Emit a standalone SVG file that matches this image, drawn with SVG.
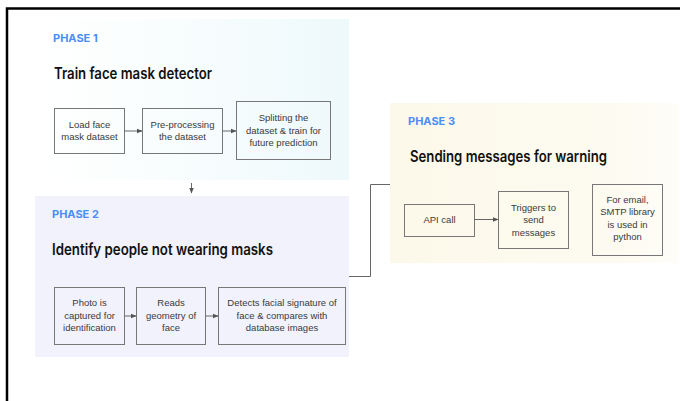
<svg xmlns="http://www.w3.org/2000/svg" width="680" height="401" viewBox="0 0 680 401">
<defs>
<linearGradient id="g1" x1="0" y1="0" x2="1" y2="0">
<stop offset="0" stop-color="#ffffff"/>
<stop offset="0.3" stop-color="#fbfefe"/>
<stop offset="1" stop-color="#eef9fc"/>
</linearGradient>
<linearGradient id="g3" x1="0" y1="0" x2="1" y2="0">
<stop offset="0" stop-color="#fcf9ea"/>
<stop offset="0.8" stop-color="#fdfbf1"/>
<stop offset="1" stop-color="#fefdf8"/>
</linearGradient>
<marker id="ah" viewBox="0 0 10 10" refX="9" refY="5" markerWidth="6" markerHeight="6" orient="auto">
<path d="M0,1 L10,5 L0,9 z" fill="#555"/>
</marker>
<style>
.box{fill:none;stroke:#777;stroke-width:1}
.bt{font-family:"Liberation Sans",Arial,sans-serif;font-size:9.5px;fill:#3a3a3a;text-anchor:middle}
.ph{font-family:Inter,"Liberation Sans",sans-serif;font-size:11px;font-weight:700;fill:#4c8df5}
.ti{font-family:Inter,"Liberation Sans",sans-serif;font-size:15.5px;font-weight:600;fill:#111}
.ln{fill:none;stroke:#666;stroke-width:1}
</style>
</defs>
<rect width="680" height="401" fill="#fff"/>
<path d="M7,401 V8.5 H680" fill="none" stroke="#000" stroke-width="2.5"/>

<g id="phase1">
<rect x="35" y="19" width="314" height="161" fill="url(#g1)"/>
<text class="ph" x="53" y="42">PHASE 1</text>
<text class="ti" x="54" y="79" textLength="158" lengthAdjust="spacingAndGlyphs">Train face mask detector</text>
</g>
<g id="phase2">
<rect x="35" y="196" width="314" height="161" fill="#f2f2fd"/>
<text class="ph" x="52" y="218">PHASE 2</text>
<text class="ti" x="52" y="255" textLength="221" lengthAdjust="spacingAndGlyphs">Identify people not wearing masks</text>
</g>
<g id="phase3">
<rect x="390" y="103" width="288" height="160" fill="url(#g3)"/>
<text class="ph" x="408" y="125">PHASE 3</text>
<text class="ti" x="410" y="162" textLength="197" lengthAdjust="spacingAndGlyphs">Sending messages for warning</text>
</g>

<g id="n-load"><rect class="box" x="54.5" y="108.5" width="70" height="45"/>
<text class="bt" x="89.5" y="127.5">Load face</text><text class="bt" x="89.5" y="139.5">mask dataset</text></g>
<g id="n-pre"><rect class="box" x="142.5" y="108.5" width="80" height="45"/>
<text class="bt" x="182.5" y="127.5">Pre-processing</text><text class="bt" x="182.5" y="139.5">the dataset</text></g>
<g id="n-split"><rect class="box" x="236.5" y="101.5" width="94" height="58"/>
<text class="bt" x="283.5" y="121">Splitting the</text><text class="bt" x="283.5" y="133.5">dataset &amp; train for</text><text class="bt" x="283.5" y="146">future prediction</text></g>

<g id="n-photo"><rect class="box" x="54.5" y="287.5" width="70" height="57"/>
<text class="bt" x="89.5" y="306">Photo is</text><text class="bt" x="89.5" y="318.5">captured for</text><text class="bt" x="89.5" y="331">identification</text></g>
<g id="n-reads"><rect class="box" x="136.5" y="287.5" width="69" height="57"/>
<text class="bt" x="171" y="306">Reads</text><text class="bt" x="171" y="318.5">geometry of</text><text class="bt" x="171" y="331">face</text></g>
<g id="n-detect"><rect class="box" x="218.5" y="287.5" width="127" height="57"/>
<text class="bt" x="282" y="306">Detects facial signature of</text><text class="bt" x="282" y="318.5">face &amp; compares with</text><text class="bt" x="282" y="331">database images</text></g>

<g id="n-api"><rect class="box" x="404.5" y="204.5" width="70" height="32"/>
<text class="bt" x="439.5" y="223">API call</text></g>
<g id="n-trig"><rect class="box" x="498.5" y="191.5" width="70" height="57"/>
<text class="bt" x="533.5" y="210.5">Triggers to</text><text class="bt" x="533.5" y="223">send</text><text class="bt" x="533.5" y="235.5">messages</text></g>
<g id="n-smtp"><rect class="box" x="592.5" y="184.5" width="70" height="71"/>
<text class="bt" x="627.5" y="202.5">For email,</text><text class="bt" x="627.5" y="215">SMTP library</text><text class="bt" x="627.5" y="227.5">is used in</text><text class="bt" x="627.5" y="240">python</text></g>

<g id="connectors">
<line class="ln" x1="124.5" y1="131" x2="142" y2="131" marker-end="url(#ah)"/>
<line class="ln" x1="222.5" y1="131" x2="236" y2="131" marker-end="url(#ah)"/>
<line class="ln" x1="191.5" y1="183" x2="191.5" y2="193" marker-end="url(#ah)"/>
<line class="ln" x1="124.5" y1="316" x2="136" y2="316" marker-end="url(#ah)"/>
<line class="ln" x1="205.5" y1="316" x2="218" y2="316" marker-end="url(#ah)"/>
<line class="ln" x1="474.5" y1="219.5" x2="498" y2="219.5" marker-end="url(#ah)"/>
<path class="ln" d="M349,276.5 H370.5 V184.5 H390" stroke="#999"/>
</g>
</svg>
